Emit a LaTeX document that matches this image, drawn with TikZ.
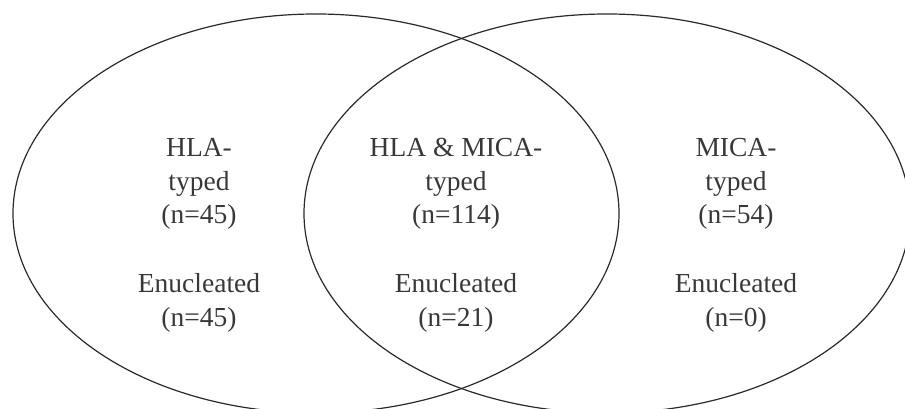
\documentclass[tikz,border=0pt]{standalone}
\usepackage{fontspec}
\setmainfont{Liberation Serif}
\usetikzlibrary{positioning}
\definecolor{VennLine}{HTML}{2A2A2A}
\definecolor{VennText}{HTML}{383838}

\begin{document}
\begin{tikzpicture}[x=1pt,y=1pt]
    \tikzset{vennset/.style={draw=VennLine,line width=1.2pt},
      venncount/.style={align=center,text=VennText,inner sep=0pt,font=\fontsize{27.5}{33.5}\selectfont}}
    \useasboundingbox (0,0) rectangle (905,409);
    \clip (0,0) rectangle (905,409);
    \draw[vennset] (316,195.5) ellipse [x radius=303,y radius=199.5];
    \draw[vennset] (607,195.5) ellipse [x radius=303,y radius=199.5];
    \node[venncount] (hlatyped) at (199,225) {HLA-\\typed\\(n=45)};
    \node[venncount] (bothtyped) at (456,225) {HLA \& MICA-\\typed\\(n=114)};
    \node[venncount] (micatyped) at (736,225) {MICA-\\typed\\(n=54)};
    \node[venncount] (hlaenuc) at (199,106) {Enucleated\\(n=45)};
    \node[venncount] (bothenuc) at (456,106) {Enucleated\\(n=21)};
    \node[venncount] (micaenuc) at (736,106) {Enucleated\\(n=0)};
  \end{tikzpicture}
\end{document}
